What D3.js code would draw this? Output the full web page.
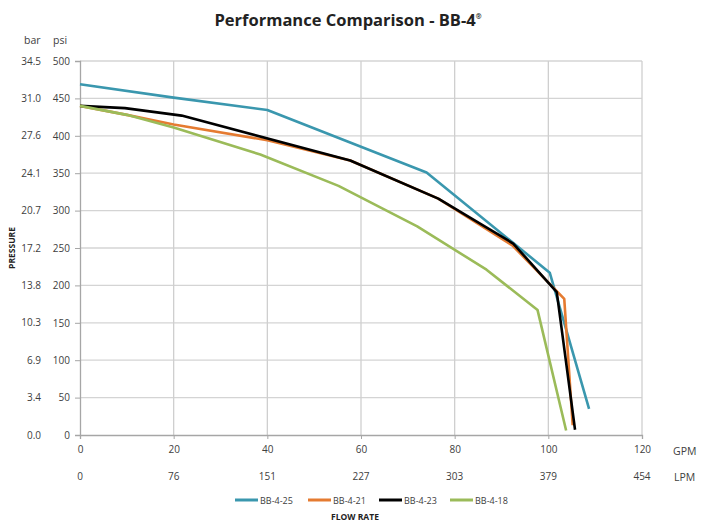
<!DOCTYPE html>
<html><head><meta charset="utf-8">
<script src="https://cdn.jsdelivr.net/npm/d3@7"></script>
<style>body{margin:0;background:#fff}svg{display:block}</style>
</head><body>
<script>
const gpmTicks = [0,20,40,60,80,100,120];
const lpmTicks = [0,76,151,227,303,379,454];
const psiTicks = [0,50,100,150,200,250,300,350,400,450,500];
const barTicks = ["0.0","3.4","6.9","10.3","13.8","17.2","20.7","24.1","27.6","31.0","34.5"];
const seriesNames = ["BB-4-25","BB-4-21","BB-4-23","BB-4-18"];
const seriesColors = ["#3a97ae","#e57b31","#000000","#9bbb59"];
const gpm25 = [0,20,40,74,100.3,108.7];
const psi25 = [469,451,434.5,351,217,35];
const gpm21 = [0,10,20,40,57.7,76.5,92.4,103.4,105.2];
const psi21 = [440,428,415,394,367,316,253,182,13];
const gpm23 = [0,9.6,21.7,57.7,76.5,92.5,101.8,105.7];
const psi23 = [440,437,427,367,316,256,191,7];
const gpm18 = [0,10,20,38.5,55.2,72,86.8,97.7,103.8];
const psi18 = [440,428,411,375,333,279,221,167,6];

const W=710,H=522;
const svg=d3.select("body").append("svg").attr("width",W).attr("height",H);
const x=d3.scaleLinear().domain([0,120]).range([80,642]);
const y=d3.scaleLinear().domain([0,500]).range([435,61]);
const font="'Open Sans', sans-serif";
const tc="#404040";

// gridlines
svg.append("g").selectAll("line").data(psiTicks.filter(d=>d>0)).join("line")
  .attr("x1",x(0)).attr("x2",x(120)).attr("y1",d=>y(d)).attr("y2",d=>y(d))
  .attr("stroke","#d4d4d4").attr("stroke-width",1.3);
svg.append("g").selectAll("line").data(gpmTicks.filter(d=>d>0)).join("line")
  .attr("x1",d=>x(d)).attr("x2",d=>x(d)).attr("y1",y(0)).attr("y2",y(500))
  .attr("stroke","#cfcfcf").attr("stroke-width",1.3);

// axes
const yAxis=svg.append("g").attr("transform",`translate(${x(0)},0)`)
  .call(d3.axisLeft(y).tickValues(psiTicks).tickSize(5).tickFormat(d3.format("d")));
yAxis.select(".domain").attr("stroke","#a6a6a6").attr("stroke-width",1.3);
yAxis.selectAll(".tick line").attr("stroke","#a6a6a6");
yAxis.selectAll("text").attr("font-family",font).attr("font-size",10).attr("fill",tc).attr("x",-10);

const xAxis=svg.append("g").attr("transform",`translate(0,${y(0)})`)
  .call(d3.axisBottom(x).tickValues(gpmTicks).tickSize(4).tickFormat(d3.format("d")));
xAxis.select(".domain").attr("stroke","#a6a6a6").attr("stroke-width",1.3);
xAxis.selectAll(".tick line").attr("stroke","#a6a6a6");
xAxis.selectAll("text").attr("font-family",font).attr("font-size",10).attr("fill",tc).attr("y",11);

// bar labels
svg.append("g").selectAll("text").data(psiTicks).join("text")
  .attr("x",41).attr("y",d=>y(d)).attr("dy","0.35em").attr("text-anchor","end")
  .attr("font-family",font).attr("font-size",10).attr("fill",tc)
  .text((d,i)=>barTicks[i]);
// LPM labels
svg.append("g").selectAll("text").data(lpmTicks).join("text")
  .attr("x",(d,i)=>x(gpmTicks[i])).attr("y",480).attr("text-anchor","middle")
  .attr("font-family",font).attr("font-size",10).attr("fill",tc).text(d=>d);

svg.append("text").attr("x",24).attr("y",44).attr("font-family",font).attr("font-size",10.5).attr("fill",tc).text("bar");
svg.append("text").attr("x",53).attr("y",44).attr("font-family",font).attr("font-size",10.5).attr("fill",tc).text("psi");
svg.append("text").attr("x",673).attr("y",455).attr("font-family",font).attr("font-size",10.5).attr("fill",tc).text("GPM");
svg.append("text").attr("x",674).attr("y",481).attr("font-family",font).attr("font-size",10.5).attr("fill",tc).text("LPM");

// title
const t=svg.append("text").attr("x",348).attr("y",26).attr("text-anchor","middle")
  .attr("font-family",font).attr("font-weight","bold").attr("font-size",16.5).attr("fill","#222");
t.append("tspan").text("Performance Comparison - BB-4");
t.append("tspan").attr("font-size",7).attr("dy",-7).text("®");

// axis titles
svg.append("text").attr("transform","translate(15,248) rotate(-90)").attr("text-anchor","middle")
  .attr("font-family",font).attr("font-weight","bold").attr("font-size",8.5).attr("fill","#222").text("PRESSURE");
svg.append("text").attr("x",355).attr("y",520).attr("text-anchor","middle")
  .attr("font-family",font).attr("font-weight","bold").attr("font-size",8.5).attr("fill","#222").text("FLOW RATE");

// lines
const data=[[gpm25,psi25],[gpm21,psi21],[gpm23,psi23],[gpm18,psi18]];
const line=d3.line().x(d=>x(d[0])).y(d=>y(d[1]));
data.forEach((s,i)=>{
  const pts=s[0].map((g,j)=>[g,s[1][j]]);
  svg.append("path").datum(pts).attr("d",line).attr("fill","none")
    .attr("stroke",seriesColors[i]).attr("stroke-width",2.6).attr("stroke-linejoin","round");
});

// legend
const lx=[235,308,379,450];
seriesNames.forEach((n,i)=>{
  svg.append("line").attr("x1",lx[i]).attr("x2",lx[i]+23).attr("y1",500).attr("y2",500)
    .attr("stroke",seriesColors[i]).attr("stroke-width",3);
  svg.append("text").attr("x",lx[i]+25).attr("y",503.5).attr("font-family",font).attr("font-size",9)
    .attr("fill",tc).text(n);
});
</script>
</body></html>
